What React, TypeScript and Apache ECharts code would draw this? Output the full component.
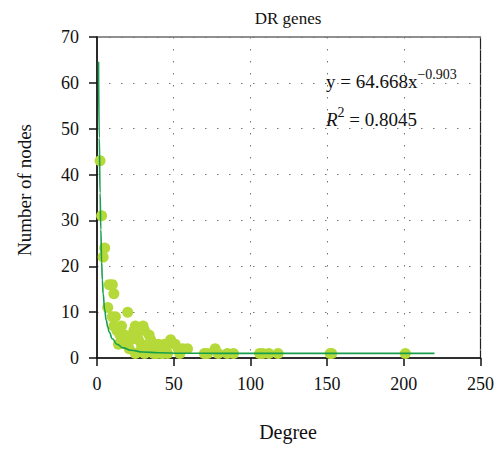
import React, { useEffect, useRef } from "react";
import * as echarts from "echarts";

const title = "DR genes";
const xName = "Degree";
const yName = "Number of nodes";
const xTicks = [0, 50, 100, 150, 200, 250];
const yTicks = [0, 10, 20, 30, 40, 50, 60, 70];

// scatter points [degree, number of nodes]
const pointsX = [2, 3, 5, 4, 8, 10, 11, 7, 20, 10, 12, 11, 16, 25, 30, 24, 34, 16, 22, 27, 35, 48, 44, 51, 59, 29, 21, 77, 19, 29, 40, 45, 53, 14, 18, 26, 31, 38, 56,
  25, 31, 37, 39, 43, 46, 54, 70, 72, 79, 85, 89, 106, 108, 112, 118, 152, 153, 201, 15, 13, 33, 42];
const pointsY = [43, 31, 24, 22, 16, 16, 14, 11, 10, 9, 9, 7, 7, 7, 7, 6, 5, 4, 4, 4, 4, 4, 3, 3, 2, 2, 2, 2, 3, 3, 3, 2, 2, 3, 5, 5, 6, 2, 2,
  1, 1, 1, 1, 1, 1, 1, 1, 1, 1, 1, 1, 1, 1, 1, 1, 1, 1, 1, 5, 6, 2, 1];

// fitted curve as drawn in the picture
const fitX = [1, 1.5, 2, 2.5, 3, 3.5, 4, 5, 6, 7, 8, 10, 13, 17, 22, 30, 40, 55, 80, 120, 170, 220];
const fitY = [64.6, 48, 36, 28, 21, 17, 14, 10.5, 8.3, 6.8, 5.6, 4.2, 3.0, 2.2, 1.7, 1.3, 1.15, 1.05, 1.0, 1.0, 1.0, 1.0];

const eqMain = "y = 64.668x";
const eqExp = "−0.903";
const r2Value = "0.8045";

const FONT = "'Liberation Serif', 'DejaVu Serif', serif";

export default function App() {
  const ref = useRef<HTMLDivElement>(null);
  useEffect(() => {
    if (!ref.current) return;
    const chart = echarts.init(ref.current, undefined, { renderer: "svg" });
    const grid = { left: 97, right: 16, top: 37, bottom: 91 };
    const split = { show: true, lineStyle: { color: "#777", width: 1, type: [1.5, 10.5] as any } };
    chart.setOption({
      animation: false,
      backgroundColor: "#fff",
      textStyle: { fontFamily: FONT },
      grid: { ...grid, show: true, borderColor: "#222", borderWidth: 1.2, backgroundColor: "transparent" },
      xAxis: {
        type: "value",
        min: xTicks[0],
        max: xTicks[xTicks.length - 1],
        interval: 50,
        axisLine: { show: true, onZero: false, lineStyle: { color: "#111", width: 1.5 } },
        axisTick: { show: true, length: 8, lineStyle: { color: "#111", width: 1.5 } },
        axisLabel: { color: "#111", fontSize: 18, fontFamily: FONT, margin: 17 },
        splitLine: split,
      },
      yAxis: {
        type: "value",
        min: yTicks[0],
        max: yTicks[yTicks.length - 1],
        interval: 10,
        axisLine: { show: true, onZero: false, lineStyle: { color: "#111", width: 1.5 } },
        axisTick: { show: true, length: 8, lineStyle: { color: "#111", width: 1.5 } },
        axisLabel: { color: "#111", fontSize: 18, fontFamily: FONT, margin: 18 },
        splitLine: split,
      },
      series: [
        {
          type: "scatter",
          data: pointsX.map((x, i) => [x, pointsY[i]]),
          symbolSize: 11,
          itemStyle: { color: "#b6d93a", opacity: 1 },
          z: 2,
        },
        {
          type: "line",
          data: fitX.map((x, i) => [x, fitY[i]]),
          smooth: true,
          smoothMonotone: "x",
          showSymbol: false,
          symbol: "none",
          lineStyle: { color: "#17a04c", width: 1.6 },
          z: 3,
        },
      ],
      graphic: [
        {
          type: "text",
          x: 288,
          y: 18,
          style: { text: title, fontSize: 17, fontFamily: FONT, fill: "#111", align: "center", verticalAlign: "middle" },
        },
        {
          type: "text",
          x: 288,
          y: 432,
          style: { text: xName, fontSize: 20, fontFamily: FONT, fill: "#111", align: "center", verticalAlign: "middle" },
        },
        {
          type: "text",
          x: 24,
          y: 190,
          rotation: Math.PI / 2,
          style: { text: yName, fontSize: 19, fontFamily: FONT, fill: "#111", align: "center", verticalAlign: "middle" },
        },
        {
          type: "text",
          x: 326,
          y: 79,
          style: {
            text: "{m|" + eqMain + "}{s|" + eqExp + "}",
            verticalAlign: "middle",
            rich: {
              m: { fontSize: 19, fontFamily: FONT, fill: "#111", lineHeight: 24, verticalAlign: "bottom" },
              s: { fontSize: 14, fontFamily: FONT, fill: "#111", lineHeight: 24, verticalAlign: "top" },
            },
          },
        },
        {
          type: "text",
          x: 326,
          y: 117,
          style: {
            text: "{i|R}{s|2}{m| = " + r2Value + "}",
            verticalAlign: "middle",
            rich: {
              i: { fontSize: 19, fontFamily: FONT, fontStyle: "italic", fill: "#111", lineHeight: 24, verticalAlign: "bottom" },
              s: { fontSize: 14, fontFamily: FONT, fill: "#111", lineHeight: 24, verticalAlign: "top" },
              m: { fontSize: 19, fontFamily: FONT, fill: "#111", lineHeight: 24, verticalAlign: "bottom" },
            },
          },
        },
      ],
    });
    return () => chart.dispose();
  }, []);
  return (
    <div
      ref={ref}
      style={{ position: "fixed", left: 0, top: 0, width: 497, height: 449 }}
    />
  );
}
